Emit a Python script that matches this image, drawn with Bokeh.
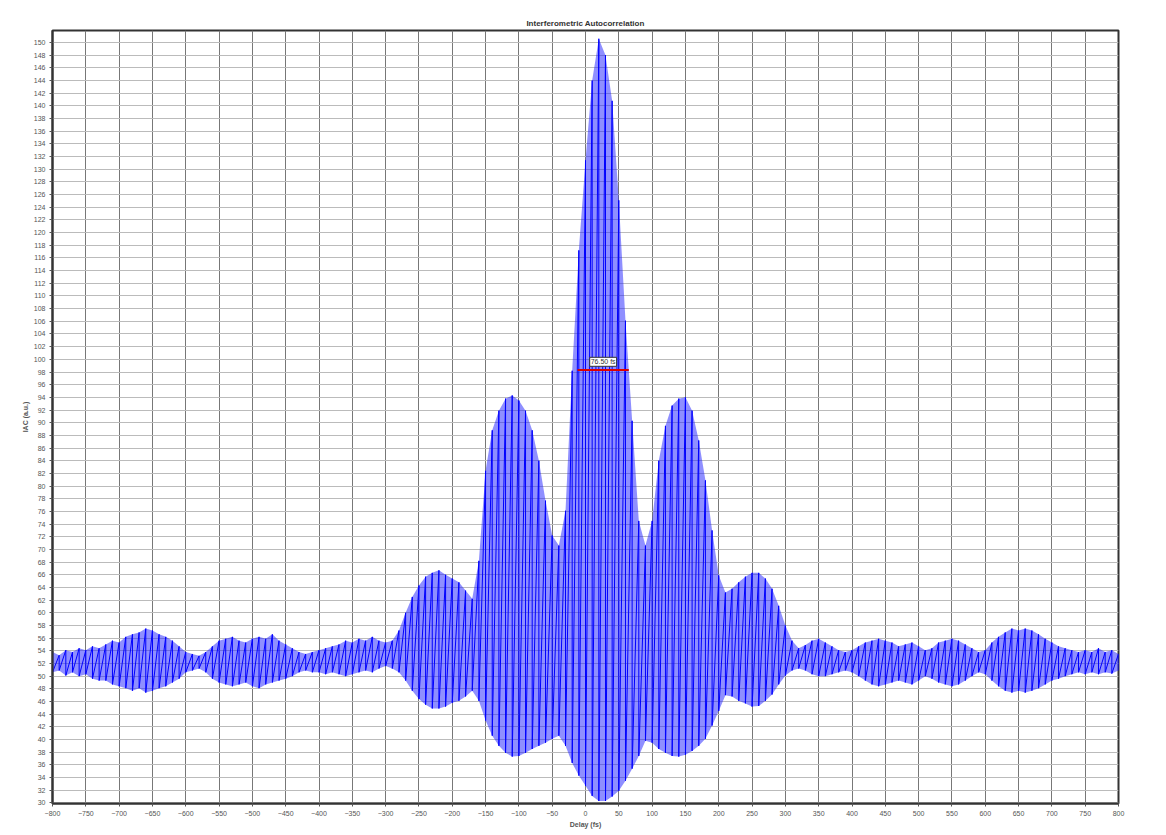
from bokeh.plotting import figure
from bokeh.models import Range1d, SingleIntervalTicker, Label
from bokeh.embed import file_html
from bokeh.resources import INLINE

title_text = "Interferometric Autocorrelation"
x_label = "Delay (fs)"
y_label = "IAC (a.u.)"

delay_fs = list(range(-800, 810, 10))

upper = [
    53.8, 53.3, 54.1, 53.8, 54.4, 54.1, 54.7, 54.4, 55.0, 55.6,  # -800..-710
    55.3, 56.2, 56.6, 56.9, 57.5, 57.2, 56.6, 56.2, 55.6, 54.7,  # -700..-610
    53.8, 53.5, 53.2, 53.8, 54.7, 55.6, 55.9, 56.2, 55.6, 55.3,  # -600..-510
    55.9, 56.2, 55.9, 56.6, 55.6, 55.0, 54.4, 53.8, 53.5, 53.8,  # -500..-410
    54.1, 54.4, 54.7, 55.0, 55.6, 55.3, 55.9, 55.6, 56.2, 55.6,  # -400..-310
    55.3, 55.6, 57.2, 60.0, 62.5, 64.3, 65.7, 66.3, 66.7, 66.0,  # -300..-210
    65.4, 64.8, 63.5, 62.2, 68.2, 82.4, 88.8, 91.9, 93.8, 94.3,  # -200..-110
    93.5, 91.9, 88.8, 84.0, 77.7, 72.2, 70.6, 76.1, 98.2, 117.2,  # -100..-10
    131.4, 144.0, 150.6, 148.0, 140.8, 125.1, 106.1, 90.3, 74.5, 70.6,  # 0..90
    74.5, 84.0, 89.5, 92.7, 93.8, 94.0, 91.9, 87.2, 80.9, 73.0,  # 100..190
    65.9, 63.2, 63.8, 64.8, 65.7, 66.3, 66.3, 65.4, 63.8, 61.1,  # 200..290
    58.0, 55.6, 54.4, 54.9, 55.6, 55.9, 55.3, 54.7, 54.1, 53.8,  # 300..390
    54.1, 54.7, 55.3, 55.6, 55.9, 55.6, 55.3, 54.7, 55.0, 55.3,  # 400..490
    54.7, 54.1, 54.4, 55.3, 55.6, 55.9, 55.6, 55.0, 54.4, 53.8,  # 500..590
    54.1, 55.3, 56.2, 56.9, 57.5, 57.2, 57.5, 57.2, 56.6, 55.9,  # 600..690
    55.3, 54.7, 54.4, 54.1, 53.8, 54.1, 53.8, 54.4, 53.8, 54.1,  # 700..790
    53.5,                                                        # 800
]

lower = [
    50.6, 50.9, 50.1, 50.6, 50.0, 50.3, 49.6, 49.3, 49.3, 48.7,  # -800..-710
    48.4, 48.1, 47.7, 48.1, 47.4, 47.7, 48.1, 48.4, 49.0, 49.6,  # -700..-610
    50.6, 50.9, 51.2, 50.6, 49.6, 49.0, 48.7, 48.4, 48.7, 49.0,  # -600..-510
    48.4, 48.1, 48.7, 49.0, 49.3, 49.6, 50.0, 50.6, 50.9, 50.6,  # -500..-410
    50.6, 50.3, 50.6, 50.3, 50.0, 50.3, 50.6, 50.9, 50.6, 51.2,  # -400..-310
    51.6, 51.2, 50.6, 49.3, 47.7, 46.4, 45.5, 44.9, 44.9, 45.2,  # -300..-210
    45.8, 46.1, 46.8, 47.7, 46.1, 43.0, 40.6, 39.0, 37.9, 37.3,  # -200..-110
    37.4, 37.9, 38.5, 39.0, 39.5, 40.1, 40.6, 39.0, 36.3, 34.3,  # -100..-10
    32.7, 31.1, 30.3, 30.3, 31.0, 31.9, 33.5, 35.4, 37.4, 39.8,  # 0..90
    39.5, 38.5, 37.9, 37.4, 37.3, 37.6, 38.2, 39.0, 40.1, 42.2,  # 100..190
    44.5, 47.0, 46.8, 46.1, 45.7, 45.2, 45.3, 46.1, 47.1, 48.7,  # 200..290
    50.1, 50.9, 51.2, 50.9, 50.3, 50.0, 50.0, 50.3, 50.6, 50.9,  # 300..390
    50.6, 50.0, 49.3, 48.7, 48.4, 48.7, 49.0, 49.3, 49.0, 48.7,  # 400..490
    49.3, 50.0, 49.6, 49.0, 48.7, 48.4, 48.7, 49.3, 50.0, 50.6,  # 500..590
    50.3, 49.3, 48.4, 47.7, 47.4, 47.7, 47.4, 47.7, 48.1, 48.7,  # 600..690
    49.3, 49.6, 50.0, 50.3, 50.6, 50.3, 50.6, 50.3, 50.6, 50.4,  # 700..790
    50.9,                                                        # 800
]

fwhm_start_fs = -12
fwhm_end_fs = 65
fwhm_level = 98.3
fwhm_text = "76.50 fs"

# zig-zag fringe trace built from the envelopes
trace_x = []
trace_y = []
for d, u, l in zip(delay_fs, upper, lower):
    trace_x += [d, d]
    trace_y += [u, l]

p = figure(width=1162, height=832, output_backend="svg", toolbar_location=None,
           x_range=Range1d(-800, 800), y_range=Range1d(29.9, 151.9),
           title=title_text, x_axis_label=x_label, y_axis_label=y_label,
           min_border_left=52, min_border_right=44, min_border_top=30, min_border_bottom=29)
p.frame_width = 1066
p.frame_height = 773

p.title.align = "center"
p.title.text_font = "Liberation Sans"
p.title.text_font_size = "8px"
p.title.text_font_style = "bold"
p.title.text_color = "#333333"
p.title.standoff = 5

p.xaxis.ticker = SingleIntervalTicker(interval=50)
p.yaxis.ticker = SingleIntervalTicker(interval=2)
for ax in (p.xaxis[0], p.yaxis[0]):
    ax.major_label_text_font = "Liberation Sans"
    ax.major_label_text_font_size = "7px"
    ax.major_label_text_color = "#555555"
    ax.axis_label_text_font = "Liberation Sans"
    ax.axis_label_text_font_size = "7px"
    ax.axis_label_text_font_style = "bold"
    ax.axis_label_text_color = "#555555"
    ax.axis_line_color = "#333333"
    ax.axis_line_width = 2
    ax.major_tick_line_color = "#555555"
    ax.major_tick_out = 3
    ax.major_tick_in = 0
    ax.minor_tick_line_color = None
    ax.major_label_standoff = 3
    ax.axis_label_standoff = 2

p.xgrid.grid_line_color = "#777777"
p.xgrid.grid_line_width = 1
p.ygrid.grid_line_color = "#bbbbbb"
p.ygrid.grid_line_width = 1
p.outline_line_color = "#333333"
p.outline_line_width = 2

p.varea(x=delay_fs, y1=lower, y2=upper, fill_color="#2020ff", fill_alpha=0.5)
p.line(trace_x, trace_y, line_color="#0000ff", line_width=1)

p.line([fwhm_start_fs, fwhm_end_fs], [fwhm_level, fwhm_level], line_color="#dd0000", line_width=2)
p.add_layout(Label(x=(fwhm_start_fs + fwhm_end_fs) / 2, y=fwhm_level + 0.6, text=fwhm_text,
                   text_align="center", text_baseline="bottom", text_font="Liberation Sans",
                   text_font_size="7px", text_color="#333333",
                   background_fill_color="white", border_line_color="#333333",
                   padding=1))

open("out.html", "w").write(file_html(p, INLINE))
